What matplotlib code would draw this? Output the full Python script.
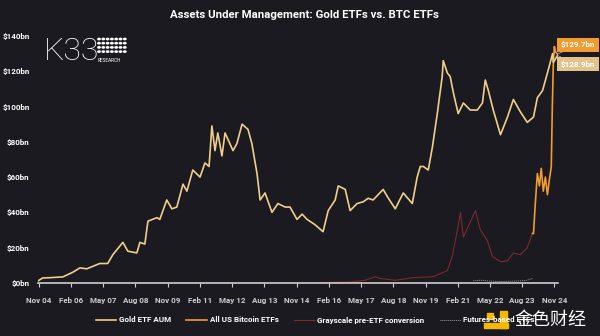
import numpy as np
import matplotlib
matplotlib.use("Agg")
import matplotlib.pyplot as plt
from matplotlib.patches import Rectangle

# ── data (decimal years, $bn) ────────────────────────────────
gold_years = [2004.79, 2004.99, 2005.30, 2005.77, 2006.15, 2006.43, 2006.70, 2007.20,
              2007.51, 2007.71, 2008.10, 2008.29, 2008.64, 2008.76, 2008.95, 2009.07,
              2009.42, 2009.53, 2009.80, 2010.00, 2010.19, 2010.43, 2010.58, 2010.81,
              2011.09, 2011.28, 2011.44, 2011.55, 2011.67, 2011.78, 2011.94, 2012.06,
              2012.37, 2012.52, 2012.72, 2012.95, 2013.10, 2013.30, 2013.42, 2013.61,
              2013.88, 2014.11, 2014.39, 2014.58, 2014.85, 2015.05, 2015.24, 2015.55,
              2015.86, 2016.06, 2016.33, 2016.45, 2016.72, 2016.91, 2017.18, 2017.42,
              2017.61, 2017.80, 2018.19, 2018.35, 2018.66, 2018.97, 2019.32, 2019.51,
              2019.63, 2019.75, 2019.94, 2020.10, 2020.29, 2020.48, 2020.52, 2020.68,
              2020.79, 2020.91, 2021.10, 2021.30, 2021.57, 2021.84, 2022.04, 2022.15,
              2022.27, 2022.46, 2022.74, 2023.01, 2023.24, 2023.51, 2023.78, 2024.02,
              2024.17, 2024.37, 2024.56, 2024.76, 2024.79, 2024.95]
gold_values = [1.0, 2.8, 3.0, 3.4, 6.0, 8.5, 8.0, 11.0,
               11.0, 16.0, 23.0, 18.0, 17.0, 23.0, 22.0, 35.0,
               37.0, 36.0, 47.0, 42.0, 43.0, 56.0, 52.0, 64.0,
               60.0, 68.0, 66.0, 89.0, 75.0, 85.0, 72.0, 85.0,
               75.0, 79.0, 90.0, 87.0, 79.0, 62.0, 47.0, 51.0,
               40.0, 45.0, 43.0, 43.0, 36.0, 39.0, 36.0, 33.0,
               29.0, 41.0, 47.0, 55.0, 53.0, 41.0, 45.0, 46.0,
               48.0, 47.0, 53.0, 49.0, 42.0, 51.0, 45.0, 60.0,
               66.0, 66.0, 64.0, 77.0, 96.0, 117.0, 126.0, 119.0,
               117.0, 108.0, 96.0, 102.0, 98.0, 98.0, 102.0, 115.0,
               109.0, 98.0, 84.0, 94.0, 104.0, 97.0, 91.0, 94.0,
               105.0, 109.0, 119.0, 130.0, 125.0, 128.9]

gbtc_years = [2015.75, 2016.91, 2017.49, 2017.88, 2018.08, 2018.66, 2019.36, 2020.13,
              2020.68, 2020.87, 2021.07, 2021.19, 2021.30, 2021.49, 2021.77, 2021.96,
              2022.23, 2022.43, 2022.74, 2023.01, 2023.24, 2023.51, 2023.78, 2023.98]
gbtc_values = [0.2, 0.5, 1.5, 3.5, 2.5, 1.5, 3.0, 3.5,
               7.0, 15.0, 30.0, 40.0, 26.0, 32.0, 41.0, 30.0,
               24.0, 15.0, 12.0, 12.5, 17.0, 16.0, 20.0, 28.0]

btc_years = [2023.98, 2024.02, 2024.09, 2024.17, 2024.25, 2024.32, 2024.40, 2024.48,
             2024.56, 2024.63, 2024.71, 2024.75, 2024.79, 2024.83, 2024.87, 2024.95]
btc_values = [28.0, 28.0, 45.0, 62.0, 55.0, 65.0, 52.0, 60.0,
              50.0, 58.0, 66.0, 100.0, 125.0, 134.0, 131.0, 129.7]

fut_years = [2021.69, 2021.96, 2022.35, 2022.74, 2023.32, 2023.71, 2023.98]
fut_values = [1.2, 1.5, 1.0, 0.8, 1.0, 1.3, 2.5]

tick_labels = ['Nov 04', 'Feb 06', 'May 07', 'Aug 08', 'Nov 09', 'Feb 11', 'May 12',
               'Aug 13', 'Nov 14', 'Feb 16', 'May 17', 'Aug 18', 'Nov 19', 'Feb 21',
               'May 22', 'Aug 23', 'Nov 24']
y_ticks = [0, 20, 40, 60, 80, 100, 120, 140]

# ── style ─────────────────────────────────────────────────────
BG = '#1b1a21'
GOLD = '#efcf8c'
ORANGE = '#f29b30'
RED = '#7c2a2c'
GREY = '#9a9a9a'
FONT = ['Roboto', 'DejaVu Sans']

fig = plt.figure(figsize=(6, 3.36), dpi=100, facecolor=BG)
ax = fig.add_axes([0.063, 0.158, 0.867, 0.735], facecolor=BG)

ax.plot(gbtc_years, gbtc_values, color=RED, lw=0.8)
ax.plot(fut_years, fut_values, color=GREY, lw=0.7, ls=(0, (1, 1)))
ax.plot(btc_years, btc_values, color=ORANGE, lw=1.2)
ax.plot(gold_years, gold_values, color=GOLD, lw=1.2)

ax.set_xlim(2004.80, 2024.97)
ax.set_ylim(0, 140)

xt = 2004.833 + 1.25 * np.arange(len(tick_labels))
ax.set_xticks(xt)
ax.set_xticklabels(tick_labels)
ax.set_yticks(y_ticks)
ax.set_yticklabels(['$%dbn' % v for v in y_ticks])

for lab in ax.get_xticklabels() + ax.get_yticklabels():
    lab.set_family(FONT)
    lab.set_fontweight('bold')
    lab.set_fontsize(5.8)
    lab.set_color('white')
ax.tick_params(axis='x', colors='#cfcfcf', length=3, width=0.8, pad=7)
ax.tick_params(axis='y', length=0, pad=6)
for s in ['top', 'right', 'left']:
    ax.spines[s].set_visible(False)
ax.spines['bottom'].set_color('#cfcfcf')
ax.spines['bottom'].set_linewidth(1.2)

# end-value labels
ax.annotate('$%.1fbn' % btc_values[-1], xy=(btc_years[-1], btc_values[-1]),
            xytext=(561 / 600, 1 - 45 / 336), textcoords='figure fraction',
            color='white', fontsize=5.8, fontweight='bold', family=FONT, va='center',
            bbox=dict(boxstyle='square,pad=0.45', fc=ORANGE, ec='none'),
            arrowprops=dict(arrowstyle='-', color='#bbbbbb', lw=0.5,
                            shrinkA=0, shrinkB=0), annotation_clip=False)
ax.annotate('$%.1fbn' % gold_values[-1], xy=(gold_years[-1], gold_values[-1]),
            xytext=(561 / 600, 1 - 64 / 336), textcoords='figure fraction',
            color='white', fontsize=5.8, fontweight='bold', family=FONT, va='center',
            bbox=dict(boxstyle='square,pad=0.45', fc='#e2c38e', ec='none'),
            arrowprops=dict(arrowstyle='-', color='#bbbbbb', lw=0.5,
                            shrinkA=0, shrinkB=0), annotation_clip=False)

# title
fig.text(0.508, 0.955, 'Assets Under Management: Gold ETFs vs. BTC ETFs',
         ha='center', va='center', color='white', fontsize=8.2,
         fontweight='bold', family=FONT)

# K33 logo
fig.text(44 / 600, 1 - 52 / 336, 'K33', color='white', fontsize=23,
         family=FONT, fontweight='light', va='center', ha='left')
for r in range(4):
    for c in range(7):
        fig.patches.append(plt.Circle(((99 + c * 4.3) / 600, 1 - (39 + r * 4.2) / 336),
                                      0.0020, color='white', transform=fig.transFigure))
fig.text(98 / 600, 1 - 60.5 / 336, 'RESEARCH', color='white', fontsize=3.4,
         family=FONT, va='center', ha='left')

# legend
handles = [plt.Line2D([], [], color=GOLD, lw=1.2),
           plt.Line2D([], [], color=ORANGE, lw=1.2),
           plt.Line2D([], [], color=RED, lw=0.8),
           plt.Line2D([], [], color=GREY, lw=0.7, ls=(0, (1, 1)))]
names = ['Gold ETF AUM', 'All US Bitcoin ETFs', 'Grayscale pre-ETF conversion',
         'Futures-based ETFs']
leg = fig.legend(handles, names, loc='center', bbox_to_anchor=(0.525, 1 - 320 / 336),
                 ncol=4, frameon=False, handlelength=2.6, columnspacing=1.9,
                 handletextpad=0.3, prop={'family': FONT, 'weight': 'bold', 'size': 5.8})
for t in leg.get_texts():
    t.set_color('white')

# watermark
fig.patches.append(Rectangle((484 / 600, 1 - 328 / 336), 24 / 600, 5 / 336,
                             color='#f5b800', transform=fig.transFigure))
fig.patches.append(Rectangle((500 / 600, 1 - 328 / 336), 7 / 600, 17 / 336,
                             color='#f5b800', transform=fig.transFigure))
fig.patches.append(Rectangle((487 / 600, 1 - 319 / 336), 6 / 600, 6 / 336,
                             color='#f5b800', transform=fig.transFigure))
fig.text(550 / 600, 1 - 320 / 336, '金色财经', color='white', fontsize=13,
         family=['Noto Sans CJK SC', 'DejaVu Sans'], ha='center', va='center')

fig.savefig('out.png', dpi=100, facecolor=BG)
